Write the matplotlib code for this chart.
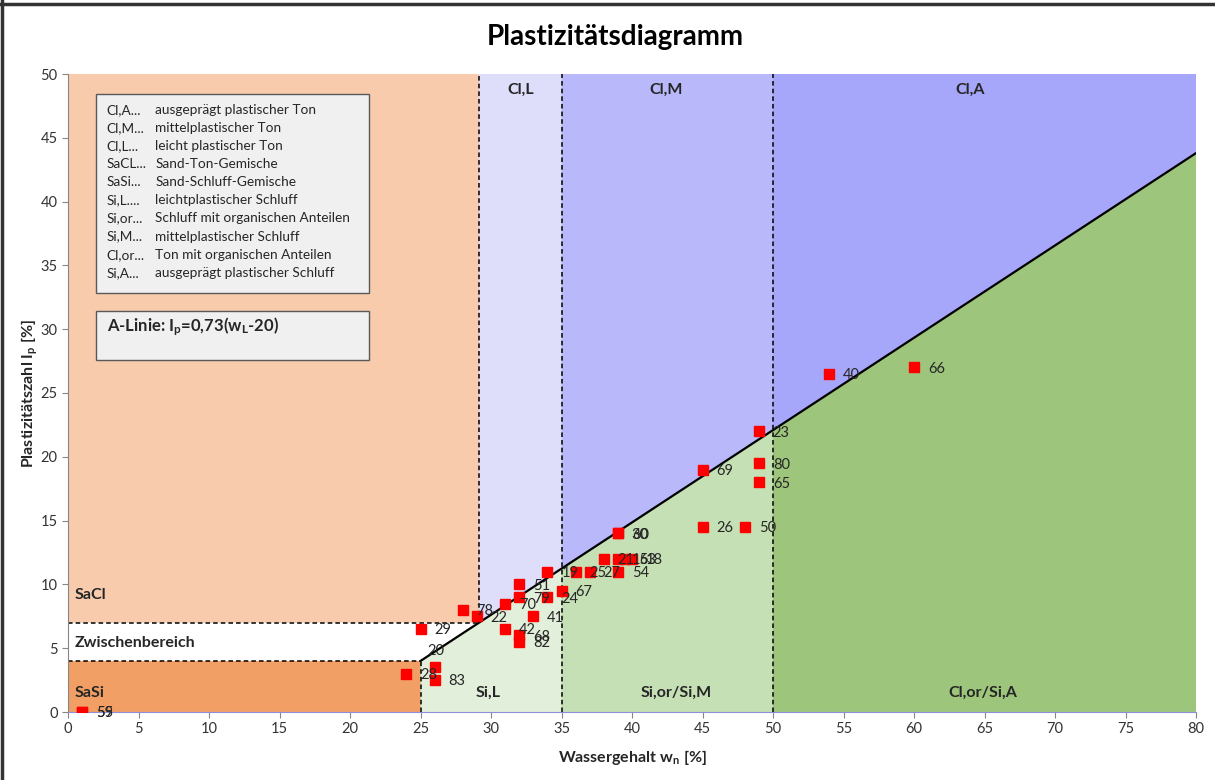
import numpy as np
import matplotlib.pyplot as plt
from matplotlib.patches import Polygon, Rectangle

plt.rcParams['font.family'] = ['Lato', 'DejaVu Sans']
plt.rcParams['mathtext.fontset'] = 'custom'
plt.rcParams['mathtext.rm'] = 'Lato'
plt.rcParams['mathtext.it'] = 'Lato:italic'
plt.rcParams['mathtext.bf'] = 'Lato:bold'

# Proben: Wassergehalt [%], Plastizitätszahl [%], Probennummer
w_n = [54, 60, 49, 45, 49, 49, 45, 48, 39, 39,
       38, 39, 39.5, 40, 34, 36, 37, 39, 32, 32,
       34, 35, 31, 28, 29, 33, 31, 32, 32, 25,
       26, 24, 26, 1, 1]
i_p = [26.5, 27, 22, 19, 19.5, 18, 14.5, 14.5, 14, 14,
       12, 12, 12, 12, 11, 11, 11, 11, 10, 9,
       9, 9.5, 8.5, 8, 7.5, 7.5, 6.5, 6, 5.5, 6.5,
       3.5, 3, 2.5, 0, 0]
probe = ["40", "66", "23", "69", "80", "65", "26", "50", "30", "60",
         "21", "15", "63", "18", "19", "25", "27", "54", "51", "79",
         "24", "67", "70", "78", "22", "41", "42", "68", "82", "29",
         "20", "28", "83", "55", "59"]

# A-Linie I_p = 0,73 (w_L - 20), gezeichnet ab w = 25
a_w = [25, 80]
a_ip = [4, 0.73 * (80 - 20)]

x_ticks = list(range(0, 81, 5))
y_ticks = list(range(0, 51, 5))

legend_codes = ["Cl,A...", "Cl,M...", "Cl,L...", "SaCL...", "SaSi...",
                "Si,L....", "Si,or...", "Si,M...", "Cl,or...", "Si,A..."]
legend_texts = ["ausgeprägt plastischer Ton", "mittelplastischer Ton",
                "leicht plastischer Ton", "Sand-Ton-Gemische",
                "Sand-Schluff-Gemische", "leichtplastischer Schluff",
                "Schluff mit organischen Anteilen", "mittelplastischer Schluff",
                "Ton mit organischen Anteilen", "ausgeprägt plastischer Schluff"]


def a_line(w):
    return np.interp(w, a_w, a_ip)


w7 = np.interp(7, a_ip, a_w)  # A-Linie schneidet I_p = 7
a35 = a_line(35)
a50 = a_line(50)
top = 50

fig = plt.figure(figsize=(12.15, 7.8), dpi=100)
ax = fig.add_axes([68 / 1215, 1 - 712 / 780, (1196 - 68) / 1215, (712 - 74) / 780])
ax.set_xlim(0, 80)
ax.set_ylim(0, 50)

zones = [
    ([(0, 7), (w7, 7), (w7, top), (0, top)], "#F8CBAD"),
    ([(0, 4), (25, 4), (w7, 7), (0, 7)], "#FFFFFF"),
    ([(0, 0), (25, 0), (25, 4), (0, 4)], "#F19F65"),
    ([(w7, 7), (35, a35), (35, top), (w7, top)], "#DEDEFB"),
    ([(35, a35), (50, a50), (50, top), (35, top)], "#B8B8FB"),
    ([(50, a50), (80, a_ip[1]), (80, top), (50, top)], "#A6A6FA"),
    ([(25, 0), (35, 0), (35, a35), (25, 4)], "#E2EFDA"),
    ([(35, 0), (50, 0), (50, a50), (35, a35)], "#C5E0B4"),
    ([(50, 0), (80, 0), (80, a_ip[1]), (50, a50)], "#9DC57C"),
]
for pts, col in zones:
    ax.add_patch(Polygon(pts, closed=True, facecolor=col, edgecolor='none', zorder=0))

# Grenzlinien
dash = dict(color='black', lw=1.1, ls=(0, (3, 2)), zorder=2)
ax.plot([w7, w7], [7, top], **dash)
ax.plot([35, 35], [0, top], **dash)
ax.plot([50, 50], [0, top], **dash)
ax.plot([25, 25], [0, 4], **dash)
ax.plot([0, w7], [7, 7], **dash)
ax.plot([0, 25], [4, 4], **dash)
ax.plot(a_w, a_ip, color='black', lw=1.6, zorder=3)

# Bereichsnamen
zone_font = dict(fontsize=11.5, fontweight='bold', color='#262626', zorder=4)
ax.text((w7 + 35) / 2, 48.8, "Cl,L", ha='center', va='center', **zone_font)
ax.text(42.4, 48.8, "Cl,M", ha='center', va='center', **zone_font)
ax.text(64, 48.8, "Cl,A", ha='center', va='center', **zone_font)
ax.text(0.45, 9.2, "SaCl", ha='left', va='center', **zone_font)
ax.text(0.45, 5.4, "Zwischenbereich", ha='left', va='center', **zone_font)
ax.text(0.45, 1.5, "SaSi", ha='left', va='center', **zone_font)
ax.text(29.8, 1.5, "Si,L", ha='center', va='center', **zone_font)
ax.text(43.1, 1.5, "Si,or/Si,M", ha='center', va='center', **zone_font)
ax.text(64.9, 1.5, "Cl,or/Si,A", ha='center', va='center', **zone_font)

# Legende der Bodengruppen
ax.add_patch(Rectangle((2, 32.8), 19.35, 15.6, facecolor='#F0F0F0',
                       edgecolor='#595959', lw=1.0, zorder=4))
for i, (code, txt) in enumerate(zip(legend_codes, legend_texts)):
    y = 47.2 - i * 1.42
    ax.text(2.75, y, code, fontsize=9.8, color='#262626', va='center', zorder=5)
    ax.text(6.2, y, txt, fontsize=9.8, color='#262626', va='center', zorder=5)

ax.add_patch(Rectangle((2, 27.6), 19.35, 3.8, facecolor='#F0F0F0',
                       edgecolor='#595959', lw=1.0, zorder=4))
ax.text(2.8, 30.2, r"A-Linie: I$_\mathbf{p}$=0,73(w$_\mathbf{L}$-20)",
        fontsize=12, fontweight='bold', color='#262626', va='center', zorder=5)

# Messpunkte
ax.plot(w_n, i_p, 's', color='#FF0000', ms=7, zorder=5)
label_offset = {"20": (-5, 12)}
for w, ip, nr in zip(w_n, i_p, probe):
    dx, dy = label_offset.get(nr, (10, -1))
    ax.annotate(nr, (w, ip), xytext=(dx, dy), textcoords='offset points',
                ha='left', va='center', fontsize=10.5, color='#262626',
                zorder=6, annotation_clip=False)

ax.set_xticks(x_ticks)
ax.set_yticks(y_ticks)
ax.tick_params(direction='out', length=4, color='#868686', labelsize=10.5,
               labelcolor='#333333')
for side in ['top', 'right']:
    ax.spines[side].set_visible(False)
ax.spines['left'].set_color('#868686')
ax.spines['bottom'].set_color('#9090D8')

ax.set_xlabel(r"Wassergehalt w$_\mathbf{n}$ [%]", fontsize=11.5, fontweight='bold',
              color='#262626', labelpad=8)
ax.set_ylabel(r"Plastizitätszahl I$_\mathbf{p}$ [%]", fontsize=11.5, fontweight='bold',
              color='#262626', labelpad=0)

fig.text(615 / 1215, 1 - 37 / 780, "Plastizitätsdiagramm", ha='center', va='center',
         fontsize=20, fontweight='bold', color='#000000')

# Rahmen oben und links
fig.add_artist(plt.Line2D([0, 1], [1 - 4 / 780, 1 - 4 / 780], color='#333333', lw=2.5))
fig.add_artist(plt.Line2D([1.5 / 1215, 1.5 / 1215], [0, 1], color='#333333', lw=2.5))

fig.savefig("out.png", dpi=100)
